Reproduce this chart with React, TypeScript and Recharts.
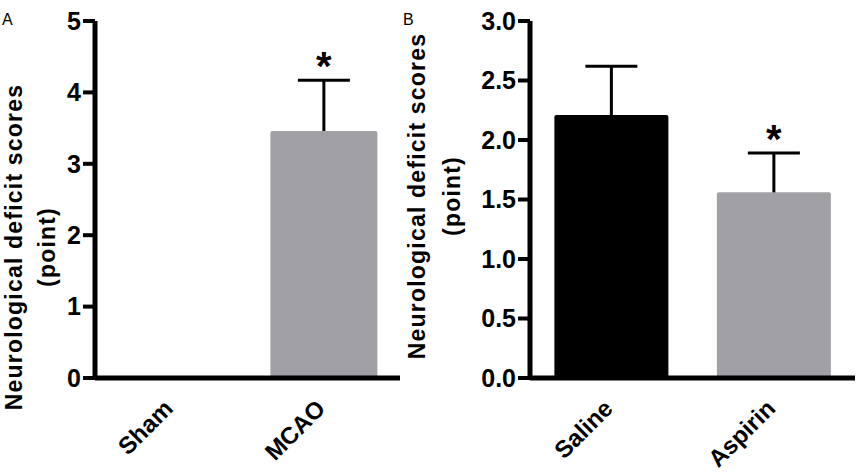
import React from 'react';
import { Bar, BarChart, Cell, LabelList, XAxis, YAxis } from 'recharts';

const FONT = '"Liberation Sans", Arial, Helvetica, sans-serif';
const GREY = '#a1a1a5';

// A: sham vs MCAO
const groupsA = ['Sham', 'MCAO'];
const meanA = [0, 3.46];
const semA = [0, 0.71];
const starA = ['', '*'];
const colorsA = ['#000000', GREY];
const ticksA = [0, 1, 2, 3, 4, 5];

// B: saline vs aspirin
const groupsB = ['Saline', 'Aspirin'];
const meanB = [2.21, 1.56];
const semB = [0.41, 0.33];
const starB = ['', '*'];
const colorsB = ['#000000', GREY];
const ticksB = [0, 0.5, 1, 1.5, 2, 2.5, 3];

const TITLE = 'Neurological deficit scores';
const UNIT = '(point)';

type Row = { group: string; mean: number; sem: number; star: string };

const toRows = (groups: string[], mean: number[], sem: number[], star: string[]): Row[] =>
  groups.map((group, i) => ({ group, mean: mean[i], sem: sem[i], star: star[i] }));

// error bar drawn as a "T" on top of the stacked mean bar
function ErrorCap(props: any) {
  const { x, y, width, height } = props;
  if (!height) return <g />;
  const cx = x + width / 2;
  return (
    <g stroke="#000" strokeWidth={3}>
      <line x1={cx} y1={y + height} x2={cx} y2={y} />
      <line x1={cx - 26} y1={y} x2={cx + 26} y2={y} />
    </g>
  );
}

function Star(props: any) {
  const { x, y, width, value } = props;
  if (!value) return null;
  return (
    <text x={x + width / 2} y={y} textAnchor="middle" fontSize={40} fontWeight="bold" fontFamily={FONT} fill="#000">
      {value}
    </text>
  );
}

function GroupTick(props: any) {
  const { x, y, payload } = props;
  return (
    <g transform={`translate(${x + 3},${y + 30})`}>
      <text textAnchor="end" transform="rotate(-45)" fontSize={24} fontWeight="bold" fontFamily={FONT} fill="#000">
        {payload.value}
      </text>
    </g>
  );
}

type PanelProps = {
  letter: string;
  letterX: number;
  left: number;
  width: number;
  axisWidth: number;
  rightGap: number;
  rows: Row[];
  colors: string[];
  ticks: number[];
  fmt: (v: number) => string;
  titleX: [number, number];
  titleY: number;
};

function Panel(p: PanelProps) {
  const max = p.ticks[p.ticks.length - 1];
  const title = () => (
    <g fontFamily={FONT} fill="#000">
      <text x={p.letterX} y={25} fontSize={16}>
        {p.letter}
      </text>
      <text
        x={p.titleX[0]}
        y={p.titleY}
        transform={`rotate(-90, ${p.titleX[0]}, ${p.titleY})`}
        textAnchor="middle"
        fontSize={23}
        letterSpacing={1.2}
        fontWeight="bold"
      >
        {TITLE}
      </text>
      <text
        x={p.titleX[1]}
        y={p.titleY}
        transform={`rotate(-90, ${p.titleX[1]}, ${p.titleY})`}
        textAnchor="middle"
        fontSize={23}
        letterSpacing={1.2}
        fontWeight="bold"
      >
        {UNIT}
      </text>
    </g>
  );

  return (
    <div style={{ position: 'absolute', left: p.left, top: 0 }}>
      <BarChart
        width={p.width}
        height={476}
        data={p.rows}
        margin={{ top: 21, right: p.rightGap, bottom: 0, left: 0 }}
        barCategoryGap="15%"
      >
        <Bar dataKey="mean" stackId="s" radius={[2, 2, 0, 0]} isAnimationActive={false}>
          {p.rows.map((r, i) => (
            <Cell key={r.group} fill={p.colors[i]} />
          ))}
        </Bar>
        <Bar dataKey="sem" stackId="s" shape={<ErrorCap />} isAnimationActive={false}>
          <LabelList dataKey="star" content={<Star />} />
        </Bar>
        <XAxis
          dataKey="group"
          interval={0}
          height={98}
          tickLine={false}
          tickSize={0}
          tick={<GroupTick />}
          axisLine={{ stroke: '#000', strokeWidth: 5 }}
        />
        <YAxis
          type="number"
          domain={[0, max]}
          ticks={p.ticks}
          interval={0}
          width={p.axisWidth}
          tickSize={12}
          tickMargin={2}
          tickFormatter={p.fmt}
          tick={{ fill: '#000', fontSize: 25, fontWeight: 'bold', fontFamily: FONT }}
          tickLine={{ stroke: '#000', strokeWidth: 4 }}
          axisLine={{ stroke: '#000', strokeWidth: 5 }}
          label={title}
        />
      </BarChart>
    </div>
  );
}

export default function App() {
  return (
    <div style={{ position: 'absolute', left: 0, top: 0, width: 860, height: 476, background: '#fff' }}>
      <Panel
        letter="A"
        letterX={2}
        left={0}
        width={430}
        axisWidth={95}
        rightGap={30}
        rows={toRows(groupsA, meanA, semA, starA)}
        colors={colorsA}
        ticks={ticksA}
        fmt={(v) => String(v)}
        titleX={[22, 55]}
        titleY={247}
      />
      <Panel
        letter="B"
        letterX={3}
        left={400}
        width={460}
        axisWidth={130}
        rightGap={5}
        rows={toRows(groupsB, meanB, semB, starB)}
        colors={colorsB}
        ticks={ticksB}
        fmt={(v) => v.toFixed(1)}
        titleX={[25, 60]}
        titleY={196}
      />
    </div>
  );
}
